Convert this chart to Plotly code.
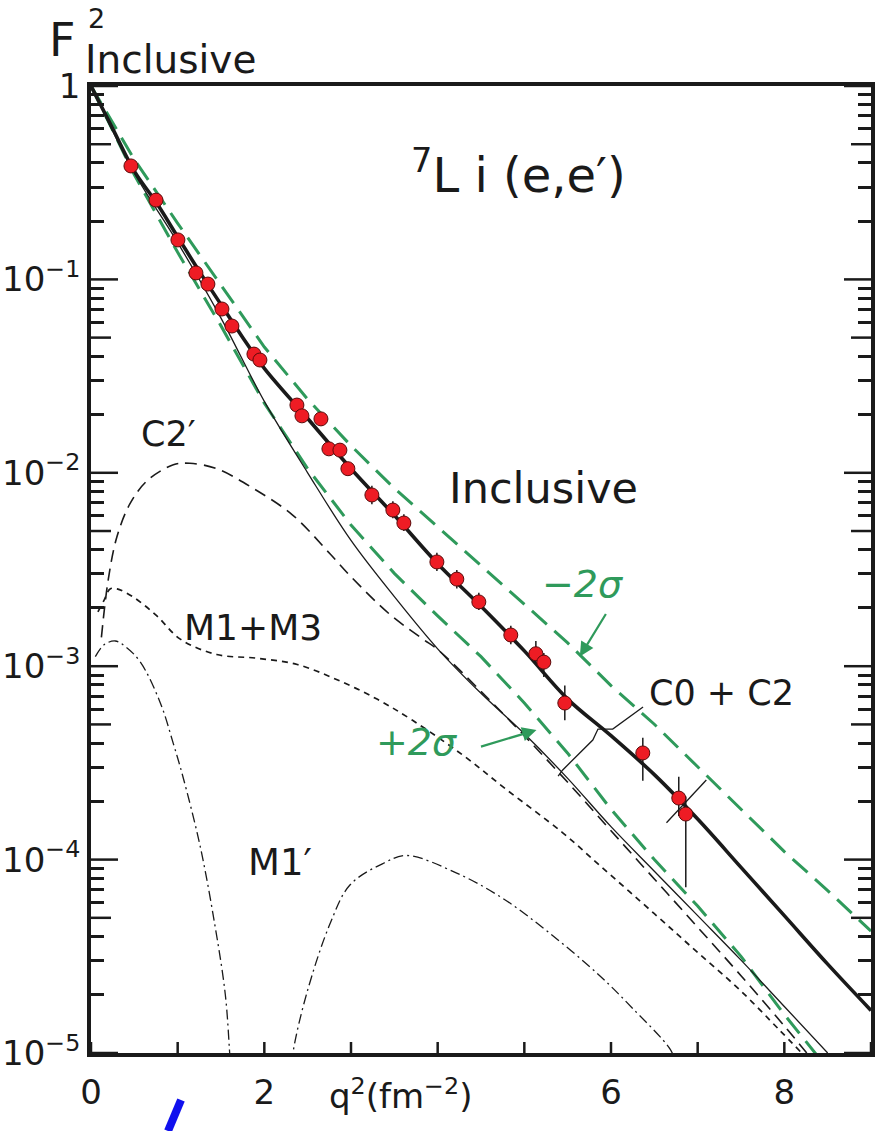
import plotly.graph_objects as go

# ---------------- data ----------------
q2_data = [0.461, 0.750, 1.003, 1.211, 1.349, 1.511, 1.626, 1.880, 1.949,
           2.376, 2.434, 2.653, 2.745, 2.872, 2.964, 3.241, 3.483, 3.610,
           3.991, 4.221, 4.475, 4.844, 5.133, 5.225, 5.467, 6.367, 6.782, 6.863]
f2_data = [0.386, 0.257, 0.160, 0.108, 0.0946, 0.0703, 0.0574, 0.0411, 0.0383,
           0.0224, 0.0197, 0.0190, 0.0133, 0.0131, 0.0105, 0.00768, 0.00642, 0.00550,
           0.00346, 0.00282, 0.00215, 0.00145, 0.00116, 0.00105, 0.000645, 0.000356,
           0.000208, 0.000172]
err_plus = [0, 0, 0, 0, 0, 0, 0, 0, 0,
            0.0012, 0.0011, 0.0011, 0.0008, 0.0008, 0.0006, 0.0009, 0.0007, 0.0006,
            0.0004, 0.00032, 0.00025, 0.00017, 0.00019, 0.00012, 0.00015, 0.00007,
            0.00006, 0.00004]
err_minus = [0, 0, 0, 0, 0, 0, 0, 0, 0,
             0.0012, 0.0011, 0.0011, 0.0008, 0.0008, 0.0006, 0.0008, 0.0006, 0.0005,
             0.00035, 0.0003, 0.0002, 0.00015, 0.00012, 0.00017, 0.00012, 0.0001,
             0.00004, 0.0001]

# total inclusive (thick solid)
q_tot = [0, 0.25, 0.5, 0.75, 1.0, 1.25, 1.5, 1.75, 2.0, 2.5, 3.0, 3.5, 4.0, 4.5,
         5.0, 5.5, 6.0, 6.5, 7.0, 7.5, 8.0, 8.5, 9.0]
f_tot = [1.0, 0.603, 0.363, 0.251, 0.166, 0.110, 0.0741, 0.0501, 0.0347, 0.0191,
         0.0105, 0.00603, 0.00339, 0.00204, 0.00120, 0.000676, 0.000437, 0.000275,
         0.000162, 0.0000912, 0.0000513, 0.0000288, 0.0000166]

# -2 sigma (upper green dashed)
q_m2s = [0, 0.5, 1.0, 1.5, 2.0, 2.5, 3.0, 3.5, 4.0, 4.5, 5.0, 5.5, 6.0, 6.5,
         7.0, 7.5, 8.0, 8.5, 9.0]
f_m2s = [1.0, 0.417, 0.195, 0.0933, 0.0447, 0.0240, 0.0138, 0.00832, 0.00525,
         0.00331, 0.00209, 0.00132, 0.000794, 0.000501, 0.000302, 0.000182,
         0.000110, 0.0000692, 0.0000427]

# +2 sigma (lower green dashed)
q_p2s = [0, 0.5, 1.0, 1.5, 2.0, 2.5, 3.0, 3.5, 4.0, 4.5, 5.0, 5.5, 6.0, 6.5,
         7.0, 7.5, 8.0, 8.5]
f_p2s = [1.0, 0.347, 0.138, 0.0575, 0.0229, 0.0105, 0.00537, 0.00302, 0.00182,
         0.00112, 0.000646, 0.000355, 0.000182, 0.000100, 0.0000575, 0.0000316,
         0.0000158, 0.0000083]

# C0 + C2 (thin solid)
q_c0c2 = [0, 0.5, 1.0, 1.5, 2.0, 2.5, 3.0, 3.5, 4.0, 4.5, 5.0, 5.5, 6.0, 6.5,
          7.0, 7.5, 8.0, 8.5]
f_c0c2 = [1.0, 0.355, 0.155, 0.0631, 0.0234, 0.0100, 0.00447, 0.00229, 0.00123,
          0.000724, 0.000447, 0.000263, 0.000148, 0.0000871, 0.0000513, 0.0000302,
          0.0000174, 0.0000100]

# C2' (long dashed)
q_c2p = [0.12, 0.2, 0.3, 0.45, 0.65, 0.95, 1.14, 1.45, 1.87, 2.33, 2.76, 3.0,
         3.45, 3.83, 4.0, 4.5, 5.0, 5.5, 6.0, 6.5, 7.0, 7.5, 8.0, 8.3]
f_c2p = [0.00141, 0.00282, 0.00468, 0.00692, 0.00912, 0.0110, 0.0112, 0.0105,
         0.00832, 0.00603, 0.00380, 0.00290, 0.00185, 0.00138, 0.00122, 0.000741,
         0.000437, 0.000251, 0.000141, 0.0000794, 0.0000447, 0.0000251, 0.0000138,
         0.0000095]

# M1 + M3 (short dashed)
q_m1m3 = [0.08, 0.15, 0.22, 0.3, 0.48, 0.76, 1.03, 1.45, 1.91, 2.38, 2.84, 3.3,
          3.71, 4.29, 4.8, 5.44, 5.87, 6.5, 7.0, 7.5, 7.94, 8.2]
f_m1m3 = [0.00191, 0.00219, 0.00251, 0.00251, 0.00229, 0.00182, 0.00138, 0.00115,
          0.00110, 0.00102, 0.000851, 0.000676, 0.000525, 0.000347, 0.000229,
          0.000138, 0.0000933, 0.0000525, 0.0000331, 0.0000209, 0.0000132, 0.0000100]

# M1' (dash-dot), two lobes
q_m1p = [0.05, 0.15, 0.28, 0.4, 0.57, 0.8, 0.95, 1.06, 1.26, 1.43, 1.55, 1.60, 1.63,
         None,
         2.30, 2.33, 2.49, 2.76, 2.99, 3.37, 3.64, 4.22, 4.75, 5.29, 5.87, 6.25,
         6.68, 6.75]
f_m1p = [0.00112, 0.00129, 0.00135, 0.00126, 0.00105, 0.000646, 0.000398, 0.000269,
         0.000117, 0.0000457, 0.0000200, 0.0000100, 0.0000060,
         None,
         0.0000070, 0.0000100, 0.0000204, 0.0000468, 0.0000741, 0.0000955, 0.000105,
         0.0000851, 0.0000631, 0.0000417, 0.0000251, 0.0000170, 0.0000105, 0.0000089]

# bracket marks
q_brk = [6.37, 6.02, 5.85, 5.79, 5.44, 5.39]
f_brk = [0.000615, 0.000473, 0.000473, 0.000415, 0.000290, 0.000270]
q_brk2 = [7.10, 6.64]
f_brk2 = [0.000258, 0.000155]

x_label_vals = [0, 2, 6, 8]
x_label_text = ["0", "2", "6", "8"]
x_tick_vals = [0, 1, 2, 3, 4, 5, 6, 7, 8, 9]
y_major = [1e-5, 1e-4, 1e-3, 1e-2, 1e-1, 1]
y_major_text = ["10<sup>−5</sup>", "10<sup>−4</sup>", "10<sup>−3</sup>",
                "10<sup>−2</sup>", "10<sup>−1</sup>", "1"]
y_half = [5e-5, 5e-4, 5e-3, 5e-2, 5e-1]
y_minor = [m * 10.0 ** e for e in range(-5, 0) for m in (2, 3, 4, 6, 7, 8, 9)]

GREEN = "#2f9a5b"
BLACK = "#1a1a1a"
RED = "#ee1c24"

fig = go.Figure()

fig.add_trace(go.Scatter(x=q_p2s, y=f_p2s, mode="lines",
                         line=dict(color=GREEN, width=3, dash="20px,10px")))
fig.add_trace(go.Scatter(x=q_m2s, y=f_m2s, mode="lines",
                         line=dict(color=GREEN, width=3, dash="20px,10px")))
fig.add_trace(go.Scatter(x=q_c0c2, y=f_c0c2, mode="lines", line_shape="spline",
                         line=dict(color=BLACK, width=1.3)))
fig.add_trace(go.Scatter(x=q_c2p, y=f_c2p, mode="lines", line_shape="spline",
                         line=dict(color=BLACK, width=1.6, dash="12px,7px")))
fig.add_trace(go.Scatter(x=q_m1m3, y=f_m1m3, mode="lines", line_shape="spline",
                         line=dict(color=BLACK, width=1.7, dash="6px,5px")))
fig.add_trace(go.Scatter(x=q_m1p, y=f_m1p, mode="lines", line_shape="spline",
                         connectgaps=False,
                         line=dict(color=BLACK, width=1.3, dash="10px,4px,2px,4px")))
fig.add_trace(go.Scatter(x=q_tot, y=f_tot, mode="lines", line_shape="spline",
                         line=dict(color=BLACK, width=3.6)))
fig.add_trace(go.Scatter(x=q_brk, y=f_brk, mode="lines",
                         line=dict(color=BLACK, width=1.3)))
fig.add_trace(go.Scatter(x=q_brk2, y=f_brk2, mode="lines",
                         line=dict(color=BLACK, width=1.3)))
fig.add_trace(go.Scatter(
    x=q2_data, y=f2_data, mode="markers",
    marker=dict(color=RED, size=14, line=dict(color="#5a0a0a", width=1)),
    error_y=dict(type="data", symmetric=False, array=err_plus, arrayminus=err_minus,
                 color=BLACK, thickness=1.5, width=0)))

fig.update_layout(
    template="simple_white",
    width=885, height=1131,
    margin=dict(l=91, r=14, t=86, b=78),
    paper_bgcolor="white", plot_bgcolor="white",
    font=dict(family="DejaVu Sans", color=BLACK),
    showlegend=False,
    xaxis=dict(range=[0, 9], tickmode="array", tickvals=x_label_vals,
               ticktext=x_label_text, ticks="", showline=True, linewidth=3.5,
               linecolor=BLACK, mirror=True, showgrid=False, zeroline=False,
               automargin=False, ticklabelstandoff=6,
               tickfont=dict(size=34, color=BLACK)),
    yaxis=dict(type="log", range=[-5, 0], tickmode="array", tickvals=y_major,
               ticktext=y_major_text, ticks="", showline=True, linewidth=3.5,
               linecolor=BLACK, mirror="ticks", showgrid=False, zeroline=False,
               automargin=False, tickfont=dict(size=34, color=BLACK),
               minor=dict(tickmode="array", tickvals=y_minor, ticks="inside",
                          ticklen=13, tickwidth=2.5, tickcolor=BLACK, showgrid=False)),
)

# tick marks placed through the axes (value on the data axis, length in domain units)
TW = dict(color=BLACK, width=2.5)
for v in x_tick_vals:
    fig.add_shape(type="line", xref="x", yref="y domain", x0=v, x1=v,
                  y0=0, y1=11 / 967, line=TW, opacity=1, layer="above")
for vals, length in ((y_major, 27), (y_half, 20)):
    for v in vals:
        fig.add_shape(type="line", xref="x domain", yref="y", x0=0, x1=length / 780,
                      y0=v, y1=v, line=TW, opacity=1, layer="above")
        fig.add_shape(type="line", xref="x domain", yref="y", x0=1 - length / 780,
                      x1=1, y0=v, y1=v, line=TW, opacity=1, layer="above")

def px2paper(px, py):
    return (px - 91) / 780.0, (1053 - py) / 967.0

def label(text, px, py, size, color=BLACK, xanchor="left", italic=False):
    x, y = px2paper(px, py)
    fig.add_annotation(x=x, y=y, xref="paper", yref="paper", text=text,
                       showarrow=False, xanchor=xanchor, yanchor="middle",
                       borderpad=0,
                       font=dict(size=size, color=color, family="DejaVu Sans",
                                 style="italic" if italic else "normal"))

# axis title texts
label("F", 48, 40, 46)
label("2", 87, 19, 27)
label("Inclusive", 84, 60, 39)
label("q<sup>2</sup>(fm<sup>−2</sup>)", 328, 1094, 34)

# in-plot labels
label("<sup>7</sup>L i (e,e′)", 410, 172, 48)
label("Inclusive", 448, 488, 43)
label("C2′", 140, 434, 35)
label("M1+M3", 183, 627, 36)
label("M1′", 247, 862, 37)
label("C0 + C2", 648, 693, 35)
label("−2σ", 541, 584, 38, color=GREEN, italic=True)
label("+2σ", 375, 742, 38, color=GREEN, italic=True)

# green arrows (head on the sigma curves)
fig.add_annotation(x=5.64, y=-2.95, xref="x", yref="y", text="", showarrow=True,
                   ax=27, ay=-44, arrowhead=2, arrowsize=1.3, arrowwidth=2.2,
                   arrowcolor=GREEN)
fig.add_annotation(x=5.14, y=-3.33, xref="x", yref="y", text="", showarrow=True,
                   ax=-57, ay=17, arrowhead=2, arrowsize=1.3, arrowwidth=2.2,
                   arrowcolor=GREEN)

# blue pen stroke at the bottom
x0, y0 = px2paper(181, 1100)
x1, y1 = px2paper(168, 1131)
fig.add_shape(type="line", xref="paper", yref="paper", x0=x0, y0=y0, x1=x1, y1=y1,
              opacity=1, line=dict(color="#1010ee", width=8))

fig.write_html("out.html")
